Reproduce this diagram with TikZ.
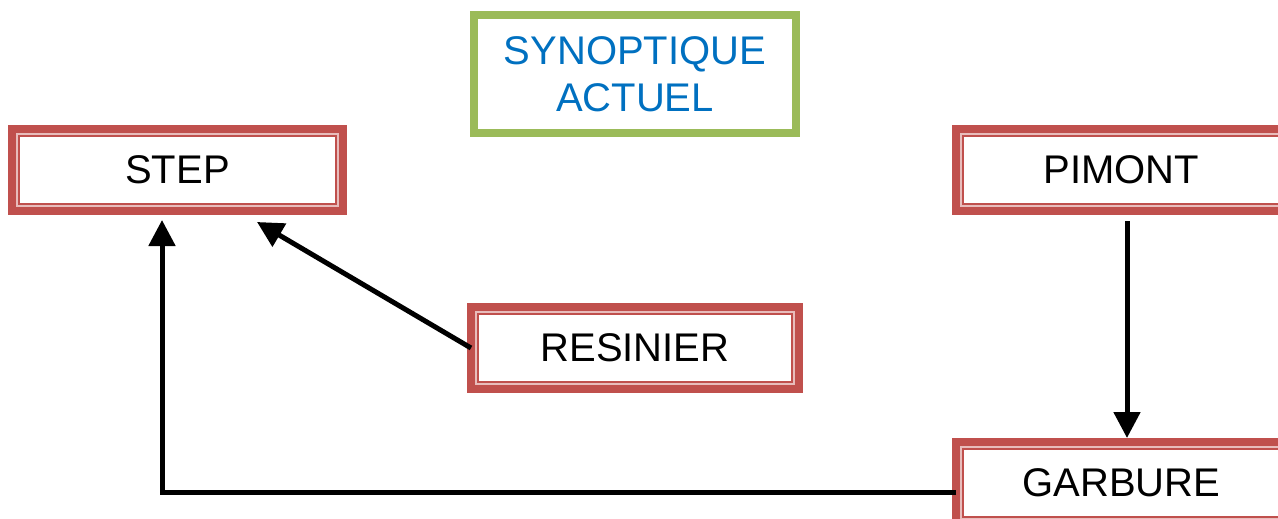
\documentclass[tikz,border=0pt]{standalone}
\usepackage{fontspec}
\setmainfont{Liberation Sans}
\usetikzlibrary{arrows.meta}
\definecolor{boxred}{HTML}{C0504D}
\definecolor{boxpink}{HTML}{E8BDBC}
\definecolor{boxgreen}{HTML}{9BBB59}
\definecolor{titleblue}{HTML}{0070C0}
\tikzset{
  rbox/.style={draw=boxred, line width=8pt, outer sep=0pt, inner sep=0pt,
    minimum height=82pt, font=\fontsize{40}{47}\selectfont,
    path picture={
      \draw[boxpink, line width=2pt] ([shift={(5pt,5pt)}]path picture bounding box.south west) rectangle ([shift={(-5pt,-5pt)}]path picture bounding box.north east);
      \draw[boxred, line width=2pt] ([shift={(7pt,7pt)}]path picture bounding box.south west) rectangle ([shift={(-7pt,-7pt)}]path picture bounding box.north east);
    }},
  gbox/.style={draw=boxgreen, line width=8pt, outer sep=0pt, inner sep=0pt,
    minimum width=322pt, minimum height=118pt, align=center, text=titleblue,
    font=\fontsize{40}{47}\selectfont},
  arr/.style={line width=5pt, -{Triangle[length=26pt,width=26pt]}}
}
\begin{document}
\begin{tikzpicture}[x=1pt,y=1pt]
\useasboundingbox (0,0) rectangle (1278,-519);
\node[gbox] (title) at (635,-74) {SYNOPTIQUE\\ACTUEL};
\node[rbox, minimum width=331pt] (step) at (177.5,-170) {STEP};
\node[rbox, minimum width=331pt] (pimont) at (1121.5,-170) {PIMONT};
\node[rbox, minimum width=328pt] (resinier) at (635,-348) {RESINIER};
\node[rbox, minimum width=331pt] (garbure) at (1121.5,-483) {GARBURE};
\coordinate (stepin1) at (162,-220);
\coordinate (stepin2) at (257,-222);
\coordinate (corner) at (162,-492);
\coordinate (garbtop) at (1127,-438);
\draw[arr] (resinier.west) -- (stepin2);
\draw[arr] (garbure.west |- corner) -- (corner) -- (stepin1);
\draw[arr] ([yshift=-10pt]pimont.south -| garbtop) -- (garbtop);
\end{tikzpicture}
\end{document}
